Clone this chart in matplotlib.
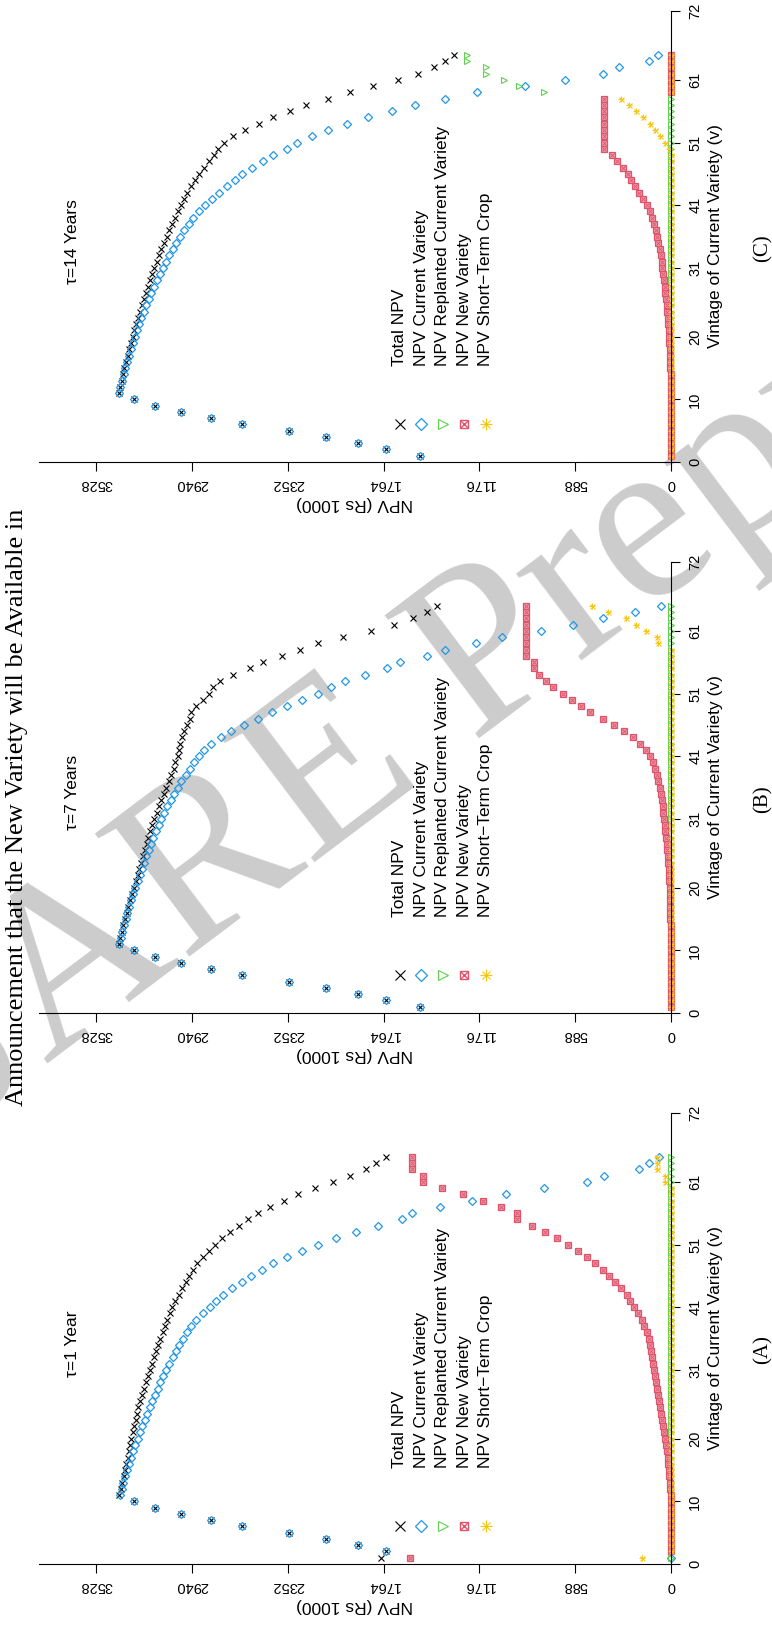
import matplotlib.pyplot as plt

plt.rcParams['font.family'] = ['Liberation Sans', 'DejaVu Sans']

VINTAGE = list(range(1, 66))

# ---- panel A : tau = 1 year ----
A_TOTAL = [1782, 1751, 1921, 2120, 2346, 2633, 2823, 3008, 3168, 3299,
           3388, 3379, 3370, 3362, 3353, 3345, 3337, 3329, 3321, 3313,
           3305, 3297, 3288, 3280, 3270, 3260, 3250, 3238, 3226, 3214,
           3201, 3188, 3174, 3161, 3148, 3135, 3122, 3108, 3094, 3079,
           3062, 3043, 3024, 3003, 2981, 2959, 2933, 2908, 2875, 2838,
           2802, 2758, 2709, 2654, 2599, 2537, 2464, 2378, 2292, 2187,
           2077, 1973, 1874, 1812, 1751]
A_CURRENT = [0, 1751, 1921, 2120, 2345, 2632, 2822, 3006, 3166, 3297,
             3385, 3374, 3363, 3352, 3340, 3328, 3316, 3303, 3290, 3276,
             3262, 3248, 3233, 3218, 3202, 3186, 3170, 3153, 3136, 3118,
             3099, 3080, 3060, 3040, 3019, 2997, 2972, 2945, 2914, 2876,
             2832, 2793, 2752, 2693, 2636, 2578, 2513, 2441, 2359, 2267,
             2169, 2058, 1935, 1800, 1653, 1591, 1420, 1223, 1014, 780,
             516, 412, 197, 135, 74]
A_REPLANTED = [0, 0, 0, 0, 0, 0, 0, 0, 0, 0,
               0, 0, 0, 0, 0, 0, 0, 0, 0, 0,
               0, 0, 0, 0, 0, 0, 0, 0, 0, 0,
               0, 0, 0, 0, 0, 0, 0, 0, 0, 0,
               0, 0, 0, 0, 0, 0, 0, 0, 0, 0,
               0, 0, 0, 0, 0, 0, 0, 0, 0, 0,
               0, 0, 0, 0, 0]
A_NEW = [1604, 0, 0, 0, 1, 1, 1, 2, 2, 2,
         3, 5, 7, 10, 13, 17, 21, 26, 31, 37,
         43, 49, 55, 62, 68, 74, 80, 85, 90, 96,
         102, 108, 114, 121, 129, 138, 150, 163, 180, 203,
         230, 250, 272, 310, 345, 381, 420, 467, 516, 571,
         633, 700, 774, 854, 946, 946, 1044, 1155, 1278, 1407,
         1524, 1524, 1591, 1591, 1591]
A_SHORT = [178, 0, 0, 0, 0, 0, 0, 0, 0, 0,
           0, 0, 0, 0, 0, 0, 0, 0, 0, 0,
           0, 0, 0, 0, 0, 0, 0, 0, 0, 0,
           0, 0, 0, 0, 0, 0, 0, 0, 0, 0,
           0, 0, 0, 0, 0, 0, 0, 0, 0, 0,
           0, 0, 0, 0, 0, 0, 0, 0, 0, 0,
           37, 37, 86, 86, 86]

# ---- panel B : tau = 7 years ----
B_TOTAL = [1542, 1751, 1921, 2120, 2345, 2633, 2823, 3007, 3167, 3299,
           3392, 3382, 3373, 3363, 3353, 3343, 3333, 3322, 3310, 3298,
           3287, 3276, 3265, 3253, 3242, 3231, 3220, 3209, 3197, 3185,
           3172, 3158, 3144, 3129, 3114, 3099, 3084, 3069, 3055, 3043,
           3030, 3020, 3015, 3000, 2990, 2970, 2955, 2945, 2915, 2875,
           2834, 2812, 2770, 2689, 2587, 2507, 2389, 2279, 2169, 2015,
           1843, 1702, 1585, 1499, 1438]
B_CURRENT = [1542, 1751, 1921, 2120, 2345, 2632, 2822, 3006, 3166, 3297,
             3390, 3380, 3370, 3360, 3349, 3338, 3327, 3315, 3302, 3289,
             3276, 3263, 3250, 3236, 3222, 3208, 3193, 3178, 3162, 3146,
             3129, 3111, 3092, 3072, 3051, 3029, 3006, 2981, 2955, 2930,
             2900, 2865, 2825, 2765, 2700, 2620, 2535, 2450, 2360, 2265,
             2169, 2090, 2000, 1880, 1745, 1665, 1499, 1389, 1198, 1038,
             800, 600, 420, 220, 60]
B_REPLANTED = [0, 0, 0, 0, 0, 0, 0, 0, 0, 0,
               0, 0, 0, 0, 0, 0, 0, 0, 0, 0,
               0, 0, 0, 0, 0, 0, 0, 0, 0, 0,
               0, 0, 0, 0, 0, 0, 0, 0, 0, 0,
               0, 0, 0, 0, 0, 0, 0, 0, 0, 0,
               0, 0, 0, 0, 0, 0, 0, 0, 0, 0,
               0, 0, 0, 0, 0]
B_NEW = [0, 0, 0, 0, 0, 1, 1, 1, 1, 2,
         2, 2, 3, 3, 4, 5, 6, 7, 8, 9,
         11, 13, 15, 17, 20, 23, 27, 31, 35, 39,
         43, 47, 52, 57, 63, 70, 78, 88, 100, 113,
         130, 155, 190, 235, 290, 350, 420, 495, 555, 610,
         665, 722, 770, 809, 842, 842, 890, 890, 890, 890,
         890, 890, 890, 890, 890]
B_SHORT = [0, 0, 0, 0, 0, 0, 0, 0, 0, 0,
           0, 0, 0, 0, 0, 0, 0, 0, 0, 0,
           0, 0, 0, 0, 0, 0, 0, 0, 0, 0,
           0, 0, 0, 0, 0, 0, 0, 0, 0, 0,
           0, 0, 0, 0, 0, 0, 0, 0, 0, 0,
           0, 0, 0, 0, 0, 0, 0, 0, 81, 87,
           153, 212, 275, 389, 488]

# ---- panel C : tau = 14 years ----
C_TOTAL = [1542, 1751, 1921, 2120, 2345, 2632, 2822, 3006, 3166, 3297,
           3392, 3383, 3374, 3365, 3356, 3346, 3336, 3326, 3316, 3306,
           3295, 3284, 3273, 3262, 3250, 3238, 3226, 3213, 3200, 3187,
           3173, 3159, 3144, 3129, 3114, 3098, 3082, 3065, 3048, 3030,
           3011, 2991, 2970, 2948, 2924, 2898, 2870, 2840, 2808, 2780,
           2744, 2687, 2618, 2532, 2443, 2340, 2239, 2105, 1972, 1831,
           1677, 1554, 1456, 1389, 1333]
C_CURRENT = [1542, 1751, 1921, 2120, 2345, 2632, 2822, 3006, 3166, 3297,
             3392, 3382, 3372, 3362, 3352, 3341, 3329, 3317, 3305, 3293,
             3280, 3266, 3252, 3238, 3223, 3207, 3191, 3174, 3157, 3139,
             3120, 3101, 3080, 3059, 3037, 3013, 2988, 2961, 2933, 2900,
             2861, 2819, 2775, 2725, 2680, 2635, 2574, 2507, 2445, 2359,
             2298, 2206, 2107, 1991, 1862, 1714, 1573, 1389, 1192, 897,
             651, 417, 319, 136, 80]
C_REPLANTED = [0, 0, 0, 0, 0, 0, 0, 0, 0, 0,
               0, 0, 0, 0, 0, 0, 0, 0, 0, 0,
               0, 0, 0, 0, 0, 0, 0, 0, 0, 0,
               0, 0, 0, 0, 0, 0, 0, 0, 0, 0,
               0, 0, 0, 0, 0, 0, 0, 0, 0, 0,
               0, 0, 0, 0, 0, 0, 0, 0, 780, 934,
               1026, 1137, 1137, 1253, 1253]
C_NEW = [0, 0, 0, 0, 0, 0, 0, 0, 0, 0,
         0, 1, 2, 3, 4, 5, 7, 9, 11, 13,
         15, 18, 21, 24, 27, 31, 35, 39, 43, 48,
         53, 58, 64, 70, 77, 85, 94, 104, 115, 130,
         150, 172, 195, 223, 244, 263, 296, 333, 363, 411,
         411, 411, 411, 411, 411, 411, 411, 411, 0, 0,
         0, 0, 0, 0, 0]
C_SHORT = [0, 0, 0, 0, 0, 0, 0, 0, 0, 0,
           0, 0, 0, 0, 0, 0, 0, 0, 0, 0,
           0, 0, 0, 0, 0, 0, 0, 0, 0, 0,
           0, 0, 0, 0, 0, 0, 0, 0, 0, 0,
           0, 0, 0, 0, 0, 0, 0, 0, 0, 10,
           35, 70, 100, 130, 170, 215, 255, 305, 0, 0,
           0, 0, 0, 0, 0]

NPV_TICKS = [0, 588, 1176, 1764, 2352, 2940, 3528]
V_TICKS = [0, 10, 20, 31, 41, 51, 61, 72]
NPV_MAX = 3881

LABELS = ["Total NPV", "NPV Current Variety", "NPV Replanted Current Variety",
          "NPV New Variety", "NPV Short\u2212Term Crop"]

BLACK = "black"
RED = "#DF536B"
GREEN = "#61D04F"
BLUE = "#2297E6"
YELLOW = "#F5C710"

PANELS = [
    ("(A)", "\u03c4=1 Year", 1564, [A_TOTAL, A_CURRENT, A_REPLANTED, A_NEW, A_SHORT]),
    ("(B)", "\u03c4=7 Years", 1013, [B_TOTAL, B_CURRENT, B_REPLANTED, B_NEW, B_SHORT]),
    ("(C)", "\u03c4=14 Years", 462, [C_TOTAL, C_CURRENT, C_REPLANTED, C_NEW, C_SHORT]),
]

W, H = 772, 1625
fig = plt.figure(figsize=(W / 100, H / 100), dpi=100)

# watermark
fig.text(494 / W, 1 - 656 / H, "JARE Preprint", rotation=37, fontsize=171,
         family="Liberation Serif", color="#cccccc", ha="center", va="center",
         zorder=-5)


def draw_series(ax, x, y, kind, big=False):
    s = 1.7 if big else 1.0
    kw = dict(linestyle="none", clip_on=False)
    if kind == 0:
        ax.plot(x, y, marker="x", ms=4.2 * s, mew=0.8, color=BLACK, **kw)
    elif kind == 1:
        ax.plot(x, y, marker="D", ms=3.6 * s, mew=0.9, mfc="none", mec=BLUE, **kw)
    elif kind == 2:
        ax.plot(x, y, marker=">", ms=4.2 * s, mew=0.8, mfc="none", mec=GREEN, **kw)
    elif kind == 3:
        if big:
            ax.plot(x, y, marker="s", ms=6.0, mew=1.0, mfc="none", mec=RED, **kw)
            ax.plot(x, y, marker="x", ms=5.5, mew=1.0, color=RED, **kw)
        else:
            ax.plot(x, y, marker="s", ms=3.8, mew=0.9, mfc="#EC9AA8", mec=RED, **kw)
            ax.plot(x, y, marker="x", ms=2.2, mew=0.6, color=RED, **kw)
    else:
        ax.plot(x, y, marker="+", ms=5.0 * s, mew=0.8, color=YELLOW, **kw)
        ax.plot(x, y, marker="x", ms=3.6 * s, mew=0.8, color=YELLOW, **kw)


for cap, title, ybase, series in PANELS:
    ax = fig.add_axes([39 / W, (H - ybase) / H, (671 - 39) / W, 451 / H])
    ax.patch.set_visible(False)
    ax.set_xlim(NPV_MAX, 0)
    ax.set_ylim(0, 72)
    ax.spines["top"].set_visible(False)
    ax.spines["left"].set_visible(False)
    for sp in ("bottom", "right"):
        ax.spines[sp].set_linewidth(0.8)

    ax.set_xticks(NPV_TICKS)
    ax.set_xticklabels([str(t) for t in NPV_TICKS])
    ax.tick_params(axis="x", direction="out", length=6.5, width=0.8,
                   labelsize=10.5, labelrotation=180, pad=4)
    ax.yaxis.tick_right()
    ax.set_yticks(V_TICKS)
    ax.set_yticklabels([str(t) for t in V_TICKS])
    ax.tick_params(axis="y", direction="out", length=6.5, width=0.8,
                   labelsize=10.5, labelrotation=90, pad=6)
    for lab in ax.get_yticklabels():
        lab.set_va("center")

    ax.set_xlabel("NPV (Rs 1000)", fontsize=12.5, rotation=180, labelpad=4)
    ax.yaxis.set_label_position("right")
    ax.set_ylabel("Vintage of Current Variety (v)", fontsize=12.5, rotation=90,
                  labelpad=4)

    for k, vals in enumerate(series):
        draw_series(ax, vals, VINTAGE, k)

    # legend written along the vintage direction
    for k, lab in enumerate(LABELS):
        lx = 1665 - k * 132
        draw_series(ax, [lx], [6.1], k, big=True)
        ax.text(lx, 15.3, lab, rotation=90, ha="center", va="bottom",
                fontsize=12.5)

    ax.text(3674, 35.2, title, rotation=90, ha="center", va="center",
            fontsize=12.5)
    fig.text(763 / W, (H - (ybase - 214)) / H, cap, rotation=90,
             family="Liberation Serif", fontsize=15, ha="center", va="center")

fig.text(17 / W, (H - 807) / H,
         "Announcement that the New Variety will be Available in",
         rotation=90, family="Liberation Serif", fontsize=19,
         ha="center", va="center")

fig.savefig("out.png", dpi=100)
